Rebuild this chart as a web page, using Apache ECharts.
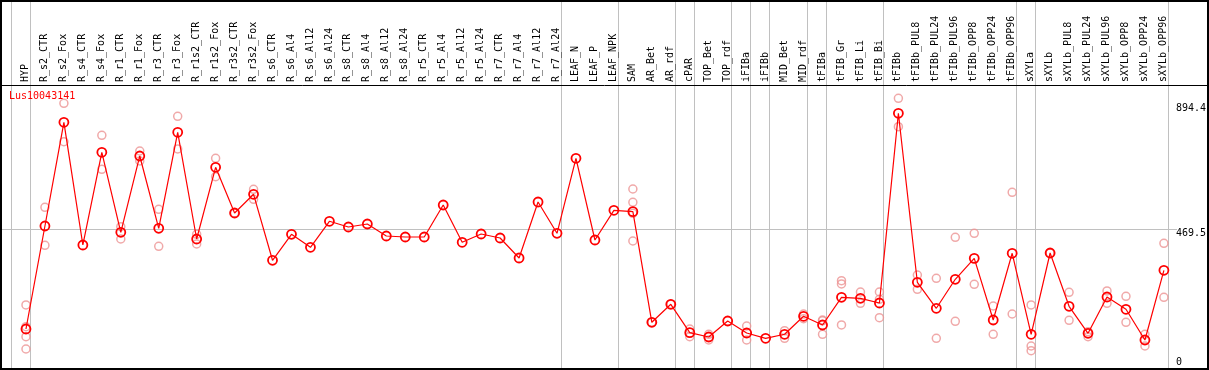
<!DOCTYPE html>
<html>
<head>
<meta charset="utf-8">
<script src="https://cdn.jsdelivr.net/npm/echarts@6/dist/echarts.min.js"></script>
<style>
html,body{margin:0;padding:0;background:#fff;}
#chart{width:1209px;height:370px;}
</style>
</head>
<body>
<div id="chart"></div>
<script>
const title = 'Lus10043141';
const categories = ['HYP','R_s2_CTR','R_s2_Fox','R_s4_CTR','R_s4_Fox','R_r1_CTR','R_r1_Fox','R_r3_CTR','R_r3_Fox',
  'R_r1s2_CTR','R_r1s2_Fox','R_r3s2_CTR','R_r3s2_Fox','R_s6_CTR','R_s6_Al4','R_s6_Al12','R_s6_Al24',
  'R_s8_CTR','R_s8_Al4','R_s8_Al12','R_s8_Al24','R_r5_CTR','R_r5_Al4','R_r5_Al12','R_r5_Al24',
  'R_r7_CTR','R_r7_Al4','R_r7_Al12','R_r7_Al24','LEAF_N','LEAF_P','LEAF_NPK','SAM','AR_Bet','AR_rdf',
  'cPAR','TOP_Bet','TOP_rdf','iFIBa','iFIBb','MID_Bet','MID_rdf','tFIBa','tFIB_Gr','tFIB_Li','tFIB_Bi',
  'tFIBb','tFIBb_PUL8','tFIBb_PUL24','tFIBb_PUL96','tFIBb_OPP8','tFIBb_OPP24','tFIBb_OPP96',
  'sXYLa','sXYLb','sXYLb_PUL8','sXYLb_PUL24','sXYLb_PUL96','sXYLb_OPP8','sXYLb_OPP24','sXYLb_OPP96'];
const means = [129.3,478,829,413.7,727.5,456.7,715,470.2,795.2,
  434,676.7,522,585.3,361.9,449.9,405.9,493.9,
  474.6,484.8,444.1,440.8,440.8,549.1,422.8,450.9,
  437.4,369.7,559.2,453.3,707.2,430.6,531.1,526.4,152,212.9,
  116.8,102.2,156.4,115.8,97.8,111.4,172.3,142.9,236.6,233.2,217.3,
  859.5,287.4,199.4,297.6,368.6,159.8,385.6,
  111.4,386.6,206.2,114.8,237.6,196,92.1,328];
const replicates = [
  [210.6,137.1,103.3,61.6],[541.3,412.7],[893.4,763.4],[],[785,670],[475.6,434],[731.9,698],[534.5,409.3],[849.4,738.7],
  [449.9,417.1],[707.2,644.9],[522],[602.2,568.4],[],[],[],[],
  [],[],[],[],[],[],[],[],
  [],[],[],[],[],[],[],[603.2,558.2,521,427.2],[152],[212.9],
  [129.3,103.3],[111.4,92.1],[],[139.5,92.1],[],[123.6,97.8],[180,164],[159.8,111.4,157],[292.8,281.7,142.9],[254.6,216.3],[254.6,167.6,229.7],
  [910.3,814.1],[312.1,263.7],[300.9,97.8],[439.7,155.4],[453.3,280.6],[207.2,111.4],[592.1,180.1],
  [210.6,71.8,55.9],[386.6],[253.6,158.8],[120.2,103.3],[258,216.3],[240,152],[111.4,71.8],[419.4,236.6]];
const groupStarts = [0,1,29,32,35,36,38,39,40,42,43,46,53,54];
const yTicks = [0, 469.5, 894.4];
const gridlineValues = [469.5];

const FONT = 'DejaVu Sans Mono';
const POINT_FRAC = 15 / 19; // position of the point inside each column
const chart = echarts.init(document.getElementById('chart'), null, {renderer: 'canvas'});

const option = {
  animation: false,
  backgroundColor: '#fff',
  title: {
    text: title, left: 9, top: 91, padding: 0,
    textStyle: {color: '#ff0000', fontSize: 10, fontFamily: FONT, fontWeight: 'normal'}
  },
  grid: {left: 11, right: 39, top: 0, bottom: 0.5, containLabel: false},
  xAxis: [{
    type: 'category', position: 'top', offset: -85, data: categories, boundaryGap: true,
    axisLine: {show: false}, axisTick: {show: false},
    axisLabel: {rotate: 90, interval: 0, margin: 3, fontSize: 10, fontFamily: FONT, color: '#000', verticalAlign: 'top'},
    splitLine: {show: true, interval: (idx) => groupStarts.includes(idx), lineStyle: {color: '#c0c0c0', width: 1}}
  }, {
    type: 'value', show: false, min: -POINT_FRAC, max: categories.length - POINT_FRAC
  }],
  yAxis: {
    type: 'value', position: 'right', min: -7.8, max: 1243,
    axisLine: {show: false}, axisTick: {show: false}, splitLine: {show: false},
    axisLabel: {
      customValues: yTicks, margin: 8, color: '#000', fontSize: 10, fontFamily: FONT,
      formatter: (v) => v === 0 ? '{b|0}' : '{t|' + v + '}',
      rich: {
        t: {padding: [10, 0, 0, 0], fontSize: 10, fontFamily: FONT, color: '#000'},
        b: {padding: [0, 0, 10, 0], fontSize: 10, fontFamily: FONT, color: '#000'}
      }
    }
  },
  series: [{
    name: 'replicates', type: 'scatter', xAxisIndex: 1, yAxisIndex: 0, z: 2,
    symbol: 'circle', symbolSize: 8,
    itemStyle: {color: 'rgba(0,0,0,0)', borderColor: '#ec9494', borderWidth: 1.5},
    data: replicates.flatMap((arr, i) => arr.map(v => [i, v]))
  }, {
    name: 'mean', type: 'line', xAxisIndex: 1, yAxisIndex: 0, z: 3,
    symbol: 'circle', symbolSize: 9, showAllSymbol: true,
    lineStyle: {color: '#ff0000', width: 1.2},
    itemStyle: {color: 'rgba(0,0,0,0)', borderColor: '#ff0000', borderWidth: 1.8},
    data: means.map((v, i) => [i, v])
  }]
};
chart.setOption(option);

// frame, header rule and full-width grid lines (y from the library's scale)
const graphics = [
  {type: 'rect', shape: {x: 1, y: 1, width: 1207, height: 368}, style: {fill: null, stroke: '#000', lineWidth: 2}, z: 10},
  {type: 'line', shape: {x1: 0, y1: 85.5, x2: 1209, y2: 85.5}, style: {stroke: '#000', lineWidth: 1}, z: 10}
];
gridlineValues.forEach(v => {
  const py = Math.round(chart.convertToPixel({yAxisIndex: 0}, v)) + 0.5;
  graphics.push({type: 'line', shape: {x1: 1, y1: py, x2: 1177, y2: py}, style: {stroke: '#c0c0c0', lineWidth: 1}, z: -1});
});
chart.setOption({graphic: graphics});
</script>
</body>
</html>
